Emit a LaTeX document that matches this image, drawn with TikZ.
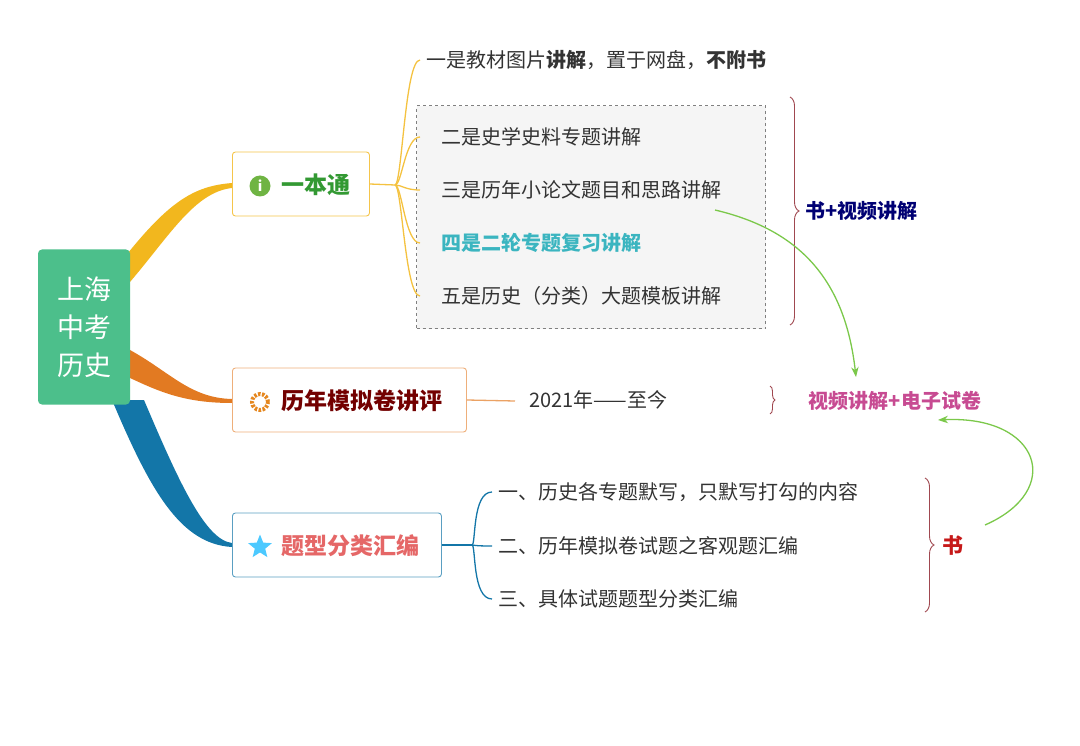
\documentclass[tikz,border=0pt]{standalone}
\usepackage{fontspec}
\setmainfont{Noto Sans CJK SC}
\usetikzlibrary{shapes.geometric,decorations.pathreplacing,arrows.meta}
\definecolor{rootg}{HTML}{4CBF8B}
\definecolor{yel}{HTML}{F2B71E}
\definecolor{ora}{HTML}{E27A22}
\definecolor{blu}{HTML}{1376A8}
\definecolor{txt}{HTML}{333333}
\definecolor{teal}{HTML}{3BB5C0}
\definecolor{arrg}{HTML}{7BC84A}
\definecolor{brc}{HTML}{A04850}
\tikzset{
 box/.style={draw,rounded corners=3pt,line width=0.9pt,fill=white,minimum height=64pt,anchor=west,inner sep=0pt},
 item/.style={anchor=west,font=\fontsize{20}{20}\selectfont,text=txt,inner sep=1pt},
 btxt/.style={anchor=west,font=\bfseries\fontsize{23}{23}\selectfont,inner sep=0pt},
 sub/.style={line width=1.3pt},
 brc/.style={draw=brc,line width=0.9pt,decorate,decoration={brace,amplitude=9pt}},
}
\begin{document}
\begin{tikzpicture}[x=1pt,y=-1pt]
\useasboundingbox (0,0) rectangle (1080,746);
% tapered branches
\fill[yel] (124,258) .. controls (170,200) and (195,186) .. (232,183) -- (232,188) .. controls (195,192) and (170,235) .. (130,282) -- cycle;
\fill[ora] (130,350) .. controls (170,372) and (190,398) .. (232,399) -- (232,403) .. controls (185,403) and (160,392) .. (130,378) -- cycle;
\fill[blu] (112,400) .. controls (150,490) and (180,544) .. (232,547) -- (232,543) .. controls (205,540) and (178,480) .. (144,400) -- cycle;
% root
\node[fill=rootg,rounded corners=4pt,minimum width=92pt,minimum height=155pt,text=white,align=center,font=\fontsize{27}{38}\selectfont] (root) at (84,327) {上海\\中考\\历史};
% dashed box
\node[draw=gray,dashed,line width=1.2pt,fill=gray!8,minimum width=349pt,minimum height=223pt,anchor=north west,inner sep=0pt] (dbox) at (416,105) {};
% branch boxes
\node[box,draw=yel!80,minimum width=137pt] (b1) at (232,184) {};
\node[box,draw=ora!60,minimum width=234pt] (b2) at (232,400) {};
\node[box,draw=blu!70,minimum width=209pt] (b3) at (232,545) {};
\node[circle,fill=arrg!90!black,text=white,inner sep=0pt,minimum size=21pt,font=\bfseries\fontsize{14}{14}\selectfont] (i1) at (260,186) {i};
\node[btxt,text=green!50!black!80] (t1) at (281,185) {一本通};
\node[circle,draw=ora!90!yellow,line width=4pt,dash pattern=on 2.5pt off 1.5pt,inner sep=0pt,minimum size=16pt] (i2) at (260,402) {};
\node[btxt,text=red!45!black] (t2) at (281,401) {历年模拟卷讲评};
\node[star,star points=5,star point ratio=2.3,fill=blue!30!cyan!70!white,inner sep=0pt,minimum size=25pt] (i3) at (260,547) {};
\node[btxt,text=red!55!white!90!black] (t3) at (281,546) {题型分类汇编};
% branch 1 items
\coordinate (h1) at (395,185);
\draw[yel!85,sub] (b1.east) -- (h1);
\node[item] (s1) at (425,60) {一是教材图片\textbf{讲解}，置于网盘，\textbf{不附书}};
\node[item] (s2) at (440,137) {二是史学史料专题讲解};
\node[item] (s3) at (440,190) {三是历年小论文题目和思路讲解};
\node[item,text=teal,font=\bfseries\fontsize{20}{20}\selectfont] (s4) at (440,243) {四是二轮专题复习讲解};
\node[item] (s5) at (440,296) {五是历史（分类）大题模板讲解};
\foreach \s/\y in {s1/60,s2/137,s3/190,s4/243,s5/296}
  \draw[yel!85,sub] (h1) .. controls (402,185) and (405,\y) .. (420,\y);
\draw[brc] (790,97) -- (790,325) node[midway,right=12pt,text=blue!45!black,font=\bfseries\fontsize{20}{20}\selectfont] (r1) {书+视频讲解};
% branch 2
\coordinate (h2) at (515,401);
\draw[ora!70,sub] (b2.east) -- (h2);
\node[item] (y1) at (528,400) {2021年——至今};
\draw[brc,decoration={brace,amplitude=5pt}] (770,386) -- (770,414);
\node[text=magenta!75!black!85,font=\bfseries\fontsize{20}{20}\selectfont] (r2) at (895,401) {视频讲解+电子试卷};
% branch 3
\coordinate (h3) at (472,545);
\draw[blu,sub] (b3.east) -- (h3);
\node[item] (c1) at (497,492) {一、历史各专题默写，只默写打勾的内容};
\node[item] (c2) at (497,546) {二、历年模拟卷试题之客观题汇编};
\node[item] (c3) at (497,599) {三、具体试题题型分类汇编};
\foreach \y in {492,546,599}
  \draw[blu,sub] (h3) .. controls (476,545) and (472,\y) .. (492,\y);
\draw[brc] (925,478) -- (925,612) node[midway,right=14pt,text=red!75!black!90,font=\bfseries\fontsize{21}{21}\selectfont] (r3) {书};
% green arrows
\coordinate (g1) at (715,210);
\coordinate (g1e) at (856,377);
\draw[arrg,line width=1.3pt,-{Stealth[length=10pt]}] (g1) .. controls (800,230) and (845,280) .. (g1e);
\coordinate (ga) at (985,525);
\coordinate (gae) at (938,420);
\draw[arrg,line width=1.3pt,-{Stealth[length=10pt]}] (ga) .. controls (1065,490) and (1040,415) .. (gae);
\end{tikzpicture}
\end{document}
